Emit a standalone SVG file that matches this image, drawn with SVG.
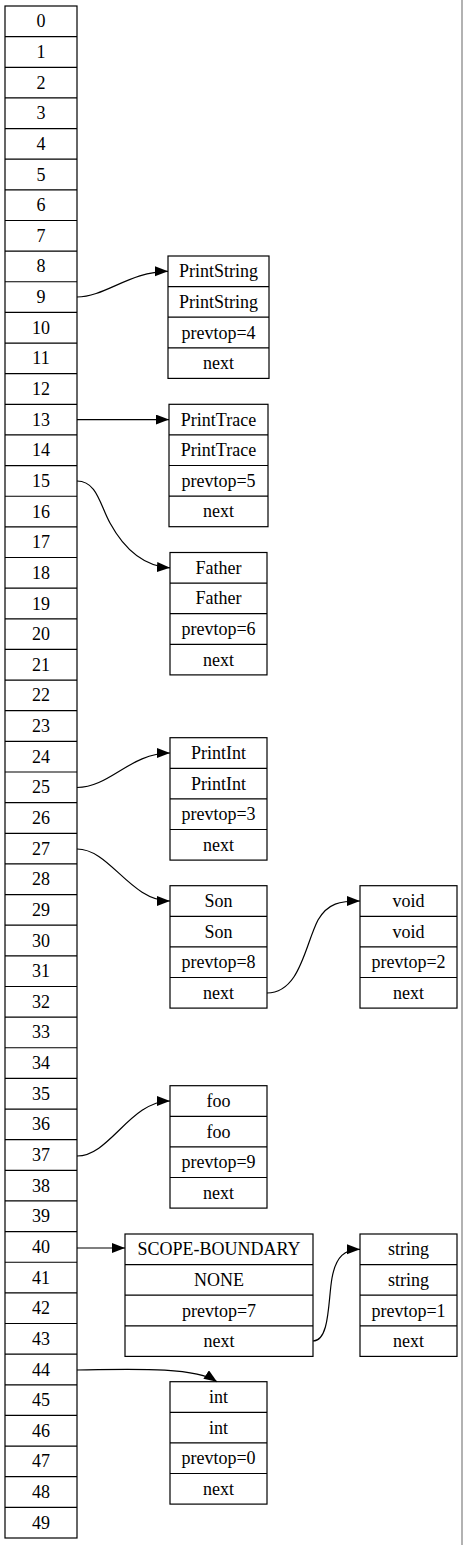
<svg xmlns="http://www.w3.org/2000/svg" width="463" height="1545" viewBox="0 0 463 1545" font-family="'Liberation Serif', 'DejaVu Serif', 'Times New Roman', serif">
<defs>
<style>
.box{fill:#fff;stroke:#000;stroke-width:1.2}
.sep{stroke:#000;stroke-width:1.2}
text{font-family:'Liberation Serif','DejaVu Serif','Times New Roman',serif;font-size:18px;fill:#000;text-anchor:middle}
.edge{fill:none;stroke:#000;stroke-width:1.2}
</style>
<marker id="arr" markerUnits="userSpaceOnUse" markerWidth="14" markerHeight="11" refX="13" refY="5" orient="auto">
<path d="M0,0 L13,5 L0,10 z" fill="#000"/>
</marker>
</defs>
<rect x="0" y="0" width="463" height="1545" fill="#fff"/>
<line x1="462" y1="0" x2="462" y2="1545" stroke="#999" stroke-width="1.5"/>

<g id="array">
<rect class="box" x="5" y="6" width="72" height="1532"/>
<path class="sep" d="M5,36.64H77M5,67.28H77M5,97.92H77M5,128.56H77M5,159.2H77M5,189.84H77M5,220.48H77M5,251.12H77M5,281.76H77M5,312.4H77M5,343.04H77M5,373.68H77M5,404.32H77M5,434.96H77M5,465.6H77M5,496.24H77M5,526.88H77M5,557.52H77M5,588.16H77M5,618.8H77M5,649.44H77M5,680.08H77M5,710.72H77M5,741.36H77M5,772H77M5,802.64H77M5,833.28H77M5,863.92H77M5,894.56H77M5,925.2H77M5,955.84H77M5,986.48H77M5,1017.12H77M5,1047.76H77M5,1078.4H77M5,1109.04H77M5,1139.68H77M5,1170.32H77M5,1200.96H77M5,1231.6H77M5,1262.24H77M5,1292.88H77M5,1323.52H77M5,1354.16H77M5,1384.8H77M5,1415.44H77M5,1446.08H77M5,1476.72H77M5,1507.36H77"/>
<text x="41" y="27.3">0</text>
<text x="41" y="58.0">1</text>
<text x="41" y="88.6">2</text>
<text x="41" y="119.2">3</text>
<text x="41" y="149.9">4</text>
<text x="41" y="180.5">5</text>
<text x="41" y="211.2">6</text>
<text x="41" y="241.8">7</text>
<text x="41" y="272.4">8</text>
<text x="41" y="303.1">9</text>
<text x="41" y="333.7">10</text>
<text x="41" y="364.4">11</text>
<text x="41" y="395.0">12</text>
<text x="41" y="425.6">13</text>
<text x="41" y="456.3">14</text>
<text x="41" y="486.9">15</text>
<text x="41" y="517.6">16</text>
<text x="41" y="548.2">17</text>
<text x="41" y="578.8">18</text>
<text x="41" y="609.5">19</text>
<text x="41" y="640.1">20</text>
<text x="41" y="670.8">21</text>
<text x="41" y="701.4">22</text>
<text x="41" y="732.0">23</text>
<text x="41" y="762.7">24</text>
<text x="41" y="793.3">25</text>
<text x="41" y="824.0">26</text>
<text x="41" y="854.6">27</text>
<text x="41" y="885.2">28</text>
<text x="41" y="915.9">29</text>
<text x="41" y="946.5">30</text>
<text x="41" y="977.2">31</text>
<text x="41" y="1007.8">32</text>
<text x="41" y="1038.4">33</text>
<text x="41" y="1069.1">34</text>
<text x="41" y="1099.7">35</text>
<text x="41" y="1130.4">36</text>
<text x="41" y="1161.0">37</text>
<text x="41" y="1191.6">38</text>
<text x="41" y="1222.3">39</text>
<text x="41" y="1252.9">40</text>
<text x="41" y="1283.6">41</text>
<text x="41" y="1314.2">42</text>
<text x="41" y="1344.8">43</text>
<text x="41" y="1375.5">44</text>
<text x="41" y="1406.1">45</text>
<text x="41" y="1436.8">46</text>
<text x="41" y="1467.4">47</text>
<text x="41" y="1498.0">48</text>
<text x="41" y="1528.7">49</text>
</g>

<g id="node-printstring">
<rect class="box" x="168" y="256" width="101" height="122.4"/>
<path class="sep" d="M168,286.6H269M168,317.2H269M168,347.8H269"/>
<text x="218.5" y="277.3">PrintString</text>
<text x="218.5" y="307.9">PrintString</text>
<text x="218.5" y="338.5">prevtop=4</text>
<text x="218.5" y="369.1">next</text>
</g>

<g id="node-printtrace">
<rect class="box" x="169" y="404.3" width="99" height="122.4"/>
<path class="sep" d="M169,434.9H268M169,465.5H268M169,496.1H268"/>
<text x="218.5" y="425.6">PrintTrace</text>
<text x="218.5" y="456.2">PrintTrace</text>
<text x="218.5" y="486.8">prevtop=5</text>
<text x="218.5" y="517.4">next</text>
</g>

<g id="node-father">
<rect class="box" x="170" y="552.5" width="97" height="122.4"/>
<path class="sep" d="M170,583.1H267M170,613.7H267M170,644.3H267"/>
<text x="218.5" y="573.8">Father</text>
<text x="218.5" y="604.4">Father</text>
<text x="218.5" y="635.0">prevtop=6</text>
<text x="218.5" y="665.6">next</text>
</g>

<g id="node-printint">
<rect class="box" x="170" y="737.7" width="97" height="122.4"/>
<path class="sep" d="M170,768.3H267M170,798.9H267M170,829.5H267"/>
<text x="218.5" y="759.0">PrintInt</text>
<text x="218.5" y="789.6">PrintInt</text>
<text x="218.5" y="820.2">prevtop=3</text>
<text x="218.5" y="850.8">next</text>
</g>

<g id="node-son">
<rect class="box" x="170" y="885.7" width="97" height="122.4"/>
<path class="sep" d="M170,916.3H267M170,946.9H267M170,977.5H267"/>
<text x="218.5" y="907.0">Son</text>
<text x="218.5" y="937.6">Son</text>
<text x="218.5" y="968.2">prevtop=8</text>
<text x="218.5" y="998.8">next</text>
</g>

<g id="node-void">
<rect class="box" x="360" y="885.7" width="97" height="122.4"/>
<path class="sep" d="M360,916.3H457M360,946.9H457M360,977.5H457"/>
<text x="408.5" y="907.0">void</text>
<text x="408.5" y="937.6">void</text>
<text x="408.5" y="968.2">prevtop=2</text>
<text x="408.5" y="998.8">next</text>
</g>

<g id="node-foo">
<rect class="box" x="170" y="1085.7" width="97" height="122.4"/>
<path class="sep" d="M170,1116.3H267M170,1146.9H267M170,1177.5H267"/>
<text x="218.5" y="1107.0">foo</text>
<text x="218.5" y="1137.6">foo</text>
<text x="218.5" y="1168.2">prevtop=9</text>
<text x="218.5" y="1198.8">next</text>
</g>

<g id="node-scope-boundary">
<rect class="box" x="125" y="1234" width="188" height="122.4"/>
<path class="sep" d="M125,1264.6H313M125,1295.2H313M125,1325.8H313"/>
<text x="219" y="1255.3">SCOPE-BOUNDARY</text>
<text x="219" y="1285.9">NONE</text>
<text x="219" y="1316.5">prevtop=7</text>
<text x="219" y="1347.1">next</text>
</g>

<g id="node-string">
<rect class="box" x="360" y="1234" width="97" height="122.4"/>
<path class="sep" d="M360,1264.6H457M360,1295.2H457M360,1325.8H457"/>
<text x="408.5" y="1255.3">string</text>
<text x="408.5" y="1285.9">string</text>
<text x="408.5" y="1316.5">prevtop=1</text>
<text x="408.5" y="1347.1">next</text>
</g>

<g id="node-int">
<rect class="box" x="170" y="1381.7" width="97" height="122.4"/>
<path class="sep" d="M170,1412.3H267M170,1442.9H267M170,1473.5H267"/>
<text x="218.5" y="1403.0">int</text>
<text x="218.5" y="1433.6">int</text>
<text x="218.5" y="1464.2">prevtop=0</text>
<text x="218.5" y="1494.8">next</text>
</g>

<g id="connectors">
<path class="edge" marker-end="url(#arr)" d="M77,297 C105,297 130,271.3 168,271.3"/>
<path class="edge" marker-end="url(#arr)" d="M77,419.6 L169,419.6"/>
<path class="edge" marker-end="url(#arr)" d="M77,481 C97,481 100,505 110,523 C122,545 140,566 170,567.8"/>
<path class="edge" marker-end="url(#arr)" d="M77,787.5 C110,787.5 130,753 170,753"/>
<path class="edge" marker-end="url(#arr)" d="M77,849 C110,849 130,901 170,901"/>
<path class="edge" marker-end="url(#arr)" d="M267,993 C300,993 305,945 318,920 C328,903 340,901 360,901"/>
<path class="edge" marker-end="url(#arr)" d="M77,1156 C110,1156 130,1101 170,1101"/>
<path class="edge" marker-end="url(#arr)" d="M77,1248 L125,1248"/>
<path class="edge" marker-end="url(#arr)" d="M313,1341 C330,1341 328,1300 332,1278 C336,1256 345,1249.3 360,1249.3"/>
<path class="edge" marker-end="url(#arr)" d="M77,1370 C135,1369 195,1367 217,1381.7"/>
</g>
</svg>
